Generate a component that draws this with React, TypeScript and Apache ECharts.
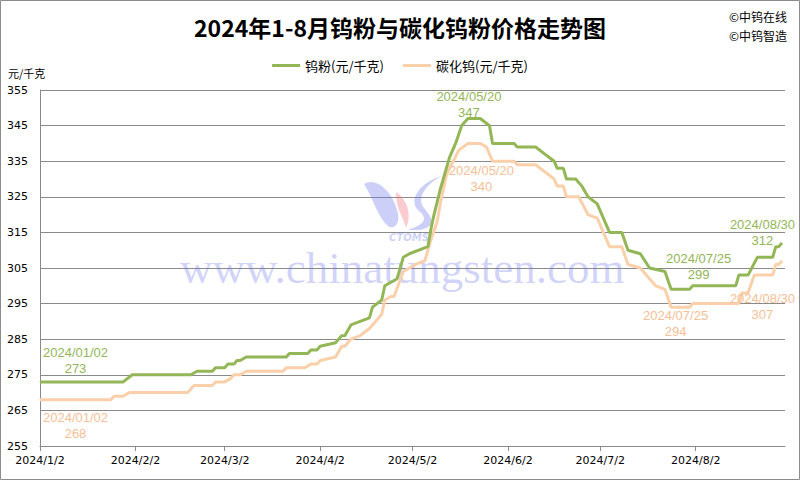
import React, { useEffect, useRef } from "react";
import * as echarts from "echarts";

// ---------- data ----------
const chartTitle = "2024年1-8月钨粉与碳化钨粉价格走势图";
const seriesNames = ["钨粉(元/千克)", "碳化钨(元/千克)"];
const yAxisName = "元/千克";
const copyrightLines = ["©中钨在线", "©中钨智造"];
const watermarkText = "www.chinatungsten.com";
const watermarkLogoText = "CTOMS";

const xStartDate = "2024-01-02";
const xEndDate = "2024-08-31";
const xTickDates = [
  "2024-01-02", "2024-02-02", "2024-03-02", "2024-04-02",
  "2024-05-02", "2024-06-02", "2024-07-02", "2024-08-02",
];
const yMin = 255;
const yMax = 355;
const yStep = 10;

// 钨粉 (tungsten powder)
const powderDates = [
  "2024-01-02", "2024-01-29", "2024-02-01", "2024-02-20", "2024-02-22", "2024-02-27",
  "2024-02-28", "2024-03-02", "2024-03-03", "2024-03-05", "2024-03-06", "2024-03-07",
  "2024-03-09", "2024-03-22", "2024-03-23", "2024-03-29", "2024-03-30", "2024-04-01",
  "2024-04-02", "2024-04-07", "2024-04-09", "2024-04-10", "2024-04-12", "2024-04-15",
  "2024-04-18", "2024-04-19", "2024-04-22", "2024-04-23", "2024-04-25", "2024-04-27",
  "2024-04-29", "2024-05-01", "2024-05-07", "2024-05-08", "2024-05-09", "2024-05-11",
  "2024-05-12", "2024-05-14", "2024-05-16", "2024-05-18", "2024-05-20", "2024-05-24",
  "2024-05-27", "2024-05-28", "2024-06-04", "2024-06-05", "2024-06-11", "2024-06-14",
  "2024-06-17", "2024-06-18", "2024-06-20", "2024-06-21", "2024-06-24", "2024-06-26",
  "2024-06-28", "2024-07-01", "2024-07-05", "2024-07-09", "2024-07-11", "2024-07-15",
  "2024-07-18", "2024-07-23", "2024-07-25", "2024-07-31", "2024-08-01", "2024-08-15",
  "2024-08-16", "2024-08-19", "2024-08-22", "2024-08-27", "2024-08-28", "2024-08-29",
  "2024-08-30",
];
const powderValues = [
  273, 273, 275, 275, 276, 276,
  277, 277, 278, 278, 279, 279,
  280, 280, 281, 281, 282, 282,
  283, 284, 286, 286, 289, 290,
  291, 294, 296, 300, 301, 302,
  308, 309, 311, 316, 320, 327,
  330, 336, 340, 345, 347, 347,
  345, 340, 340, 339, 339, 337,
  335, 333, 333, 330, 330, 328,
  325, 323, 315, 315, 310, 309,
  305, 304, 299, 299, 300, 300,
  303, 303, 308, 308, 311, 311,
  312,
];

// 碳化钨 (tungsten carbide)
const carbideDates = [
  "2024-01-02", "2024-01-25", "2024-01-26", "2024-01-29", "2024-01-31", "2024-02-19",
  "2024-02-21", "2024-02-27", "2024-02-28", "2024-03-02", "2024-03-04", "2024-03-05",
  "2024-03-07", "2024-03-09", "2024-03-21", "2024-03-22", "2024-03-28", "2024-03-30",
  "2024-04-01", "2024-04-02", "2024-04-07", "2024-04-09", "2024-04-10", "2024-04-12",
  "2024-04-15", "2024-04-18", "2024-04-20", "2024-04-22", "2024-04-23", "2024-04-25",
  "2024-04-26", "2024-04-29", "2024-05-03", "2024-05-06", "2024-05-08", "2024-05-10",
  "2024-05-11", "2024-05-13", "2024-05-14", "2024-05-17", "2024-05-20", "2024-05-24",
  "2024-05-26", "2024-05-28", "2024-06-04", "2024-06-05", "2024-06-11", "2024-06-14",
  "2024-06-17", "2024-06-18", "2024-06-20", "2024-06-21", "2024-06-25", "2024-06-28",
  "2024-07-01", "2024-07-05", "2024-07-09", "2024-07-11", "2024-07-15", "2024-07-18",
  "2024-07-20", "2024-07-23", "2024-07-25", "2024-07-31", "2024-08-01", "2024-08-16",
  "2024-08-17", "2024-08-19", "2024-08-21", "2024-08-27", "2024-08-28", "2024-08-29",
  "2024-08-30",
];
const carbideValues = [
  268, 268, 269, 269, 270, 270,
  272, 272, 273, 273, 274, 275,
  275, 276, 276, 277, 277, 278,
  278, 279, 280, 283, 283, 285,
  286, 288, 290, 292, 296, 297,
  297, 304, 306, 307, 313, 318,
  323, 331, 333, 338, 340, 340,
  339, 335, 335, 334, 334, 332,
  330, 328, 328, 325, 325, 320,
  319, 311, 311, 306, 305, 302,
  300, 299, 294, 294, 295, 295,
  298, 298, 303, 303, 306, 306,
  307,
];

const powderLabelDates = ["2024-01-02", "2024-05-20", "2024-07-25", "2024-08-30"];
const carbideLabelDates = ["2024-01-02", "2024-05-20", "2024-07-25", "2024-08-30"];

// ---------- helpers / styles ----------
const DAY = 86400000;
const toUTC = (s: string) => {
  const [y, m, d] = s.split("-").map(Number);
  return Date.UTC(y, m - 1, d);
};
const dayIndex = (s: string) => Math.round((toUTC(s) - toUTC(xStartDate)) / DAY);
const fromIndex = (i: number) => new Date(toUTC(xStartDate) + i * DAY);

const GREEN = "#93B656";
const GREEN_TEXT = "#93B656";
const PEACH = "#FAD0AA";
const PEACH_TEXT = "#F5C096";

// label block centre relative to its point (pixels)
const powderLabelPos: Record<string, number[]> = {
  "2024-01-02": [35.5, -21],
  "2024-05-20": [1, -14],
  "2024-07-25": [27.5, -22.5],
  "2024-08-30": [-19.5, -11],
};
const carbideLabelPos: Record<string, number[]> = {
  "2024-01-02": [35.5, 25.5],
  "2024-05-20": [13.5, 35.5],
  "2024-07-25": [4.5, 16.5],
  "2024-08-30": [-19.5, 45.5],
};

function buildData(
  dates: string[],
  values: number[],
  labelDates: string[],
  pos: Record<string, number[]>,
  color: string
) {
  return dates.map((d, i) => {
    const v = values[i];
    const item: any = { value: [dayIndex(d), v] };
    if (labelDates.includes(d)) {
      const p = pos[d] || [0, -14];
      item.symbol = "circle";
      item.symbolSize = 1;
      item.label = {
        show: true,
        position: [p[0] + 0.5, p[1] + 0.5],
        color,
        fontFamily: "Liberation Sans",
        fontSize: 13,
        lineHeight: 16,
        align: "center",
        verticalAlign: "middle",
        formatter: () => d.replace(/-/g, "/") + "\n" + v,
      };
    } else {
      item.symbol = "none";
    }
    return item;
  });
}

// watermark logo shapes
const logoLeft = "M0 6 C12 -2 30 14 34 36 C36 46 30 52 24 48 C14 40 10 22 0 6 Z";
const logoRight = "M78 0 C62 8 52 22 60 32 C68 42 74 50 56 54 L44 54 C62 48 64 42 54 34 C44 24 56 6 78 0 Z";
const logoFlame = "M30 16 C42 24 46 40 40 52 C38 42 30 34 30 16 Z";
let shapesRegistered = false;
function registerShapes() {
  if (shapesRegistered) return;
  echarts.graphic.registerShape("logoLeft", echarts.graphic.extendPath(logoLeft, {}) as any);
  echarts.graphic.registerShape("logoRight", echarts.graphic.extendPath(logoRight, {}) as any);
  echarts.graphic.registerShape("logoFlame", echarts.graphic.extendPath(logoFlame, {}) as any);
  shapesRegistered = true;
}

export default function App() {
  const ref = useRef<HTMLDivElement>(null);

  useEffect(() => {
    if (!ref.current) return;
    registerShapes();
    const chart = echarts.init(ref.current, undefined, { renderer: "svg" });

    const xMax = dayIndex(xEndDate);
    const tickIdx = xTickDates.map(dayIndex);

    const option: any = {
      animation: false,
      backgroundColor: "#ffffff",
      title: {
        text: chartTitle,
        left: "center",
        top: 10,
        textStyle: {
          fontFamily: "Noto Sans CJK SC",
          fontSize: 23,
          fontWeight: "bold",
          color: "#000000",
        },
      },
      legend: {
        top: 54,
        left: "center",
        itemWidth: 28,
        itemHeight: 3,
        itemGap: 19,
        icon: "rect",
        textStyle: { fontFamily: "Noto Sans CJK SC", fontSize: 13, color: "#000" },
        data: seriesNames,
      },
      grid: { left: 40, right: 15, top: 90, bottom: 34, containLabel: false },
      xAxis: {
        type: "value",
        min: 0,
        max: xMax,
        axisLine: { show: true, lineStyle: { color: "#8a8a8a", width: 1 } },
        axisTick: {
          show: true,
          customValues: tickIdx,
          length: 5,
          lineStyle: { color: "#8a8a8a" },
        },
        axisLabel: {
          customValues: tickIdx,
          margin: 9,
          color: "#000",
          fontFamily: "DejaVu Sans",
          fontSize: 11,
          formatter: (val: number) => {
            const dt = fromIndex(val);
            return `${dt.getUTCFullYear()}/${dt.getUTCMonth() + 1}/${dt.getUTCDate()}`;
          },
        },
        splitLine: { show: false },
      },
      yAxis: {
        type: "value",
        min: yMin,
        max: yMax,
        interval: yStep,
        axisLine: { show: true, lineStyle: { color: "#8a8a8a", width: 1 } },
        axisTick: { show: false },
        axisLabel: {
          margin: 12,
          color: "#000",
          fontFamily: "DejaVu Sans",
          fontSize: 11,
        },
        splitLine: { show: true, lineStyle: { color: "#8a8a8a", width: 1 } },
      },
      series: [
        {
          name: seriesNames[0],
          type: "line",
          z: 4,
          showSymbol: true,
          symbol: "circle",
          symbolSize: 1,
          lineStyle: { color: GREEN, width: 3 },
          itemStyle: { color: GREEN },
          labelLayout: { hideOverlap: false },
          data: buildData(powderDates, powderValues, powderLabelDates, powderLabelPos, GREEN_TEXT),
        },
        {
          name: seriesNames[1],
          type: "line",
          z: 3,
          showSymbol: true,
          symbol: "circle",
          symbolSize: 1,
          lineStyle: { color: PEACH, width: 3 },
          itemStyle: { color: PEACH },
          labelLayout: { hideOverlap: false },
          data: buildData(carbideDates, carbideValues, carbideLabelDates, carbideLabelPos, PEACH_TEXT),
        },
      ],
      graphic: [
        {
          type: "rect",
          z: 0,
          silent: true,
          shape: { x: 0.5, y: 0.5, width: 799, height: 479 },
          style: { fill: "none", stroke: "#8c8c8c", lineWidth: 1 },
        },
        {
          type: "text",
          x: 8,
          y: 73,
          style: {
            text: yAxisName,
            fill: "#000",
            font: "11px 'Noto Sans CJK SC'",
            verticalAlign: "middle",
          },
        },
        {
          type: "text",
          x: 787,
          y: 16,
          style: {
            text: copyrightLines[0],
            fill: "#000",
            font: "12px 'Noto Sans CJK SC'",
            align: "right",
            verticalAlign: "middle",
          },
        },
        {
          type: "text",
          x: 787,
          y: 35,
          style: {
            text: copyrightLines[1],
            fill: "#000",
            font: "12px 'Noto Sans CJK SC'",
            align: "right",
            verticalAlign: "middle",
          },
        },
        {
          type: "text",
          z: 1,
          silent: true,
          x: 180,
          y: 268,
          style: {
            text: watermarkText,
            fill: "rgba(110,120,235,0.32)",
            font: "45px 'Liberation Serif'",
            verticalAlign: "middle",
          },
        },
        {
          type: "logoLeft",
          z: 1,
          silent: true,
          x: 364,
          y: 178,
          style: { fill: "rgba(110,120,235,0.35)" },
        },
        {
          type: "logoRight",
          z: 1,
          silent: true,
          x: 364,
          y: 176,
          style: { fill: "rgba(110,120,235,0.35)" },
        },
        {
          type: "logoFlame",
          z: 1,
          silent: true,
          x: 366,
          y: 176,
          style: { fill: "rgba(240,110,120,0.35)" },
        },
        {
          type: "text",
          z: 1,
          silent: true,
          x: 409,
          y: 237,
          style: {
            text: watermarkLogoText,
            fill: "rgba(110,120,235,0.35)",
            font: "italic bold 10px 'DejaVu Sans'",
            align: "center",
            verticalAlign: "middle",
          },
        },
      ],
    };

    chart.setOption(option);
    return () => chart.dispose();
  }, []);

  return (
    <div
      ref={ref}
      style={{ position: "absolute", left: 0, top: 0, width: 800, height: 480 }}
    />
  );
}
